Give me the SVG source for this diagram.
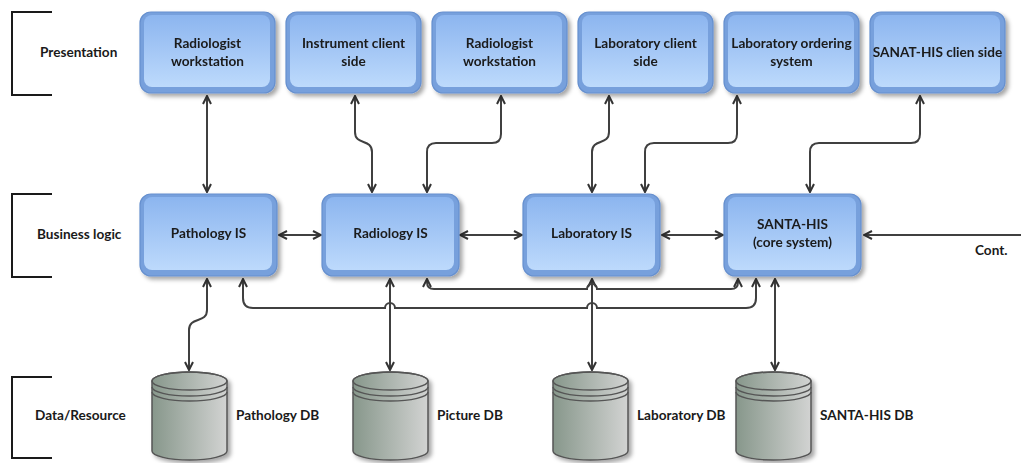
<svg xmlns="http://www.w3.org/2000/svg" width="1021" height="463" viewBox="0 0 1021 463">
<defs>
<linearGradient id="gBox" x1="0" y1="0" x2="0" y2="1">
<stop offset="0" stop-color="#8cb5ef"/>
<stop offset="1" stop-color="#bddafc"/>
</linearGradient>
<linearGradient id="gCyl" x1="0" y1="0" x2="1" y2="0">
<stop offset="0" stop-color="#87978b"/>
<stop offset="1" stop-color="#d2d3d2"/>
</linearGradient>
<filter id="sh" x="-10%" y="-10%" width="125%" height="130%">
<feDropShadow dx="3" dy="3" stdDeviation="2" flood-color="#000" flood-opacity="0.35"/>
</filter>
<marker id="ah" viewBox="0 0 10 10" refX="9" refY="5" markerWidth="10" markerHeight="10" markerUnits="userSpaceOnUse" orient="auto-start-reverse">
<path d="M1,1 L9,5 L1,9" fill="none" stroke="#333" stroke-width="2"/>
</marker>
</defs>
<style>
.outer{fill:#77a0dc;stroke:#6690cf;stroke-width:1.2}
.inner{fill:url(#gBox)}
.t{font-family:Lato,"Open Sans",sans-serif;font-weight:bold;font-size:13.6px;fill:#1a1a1a;text-anchor:middle}
.l{font-family:Lato,"Open Sans",sans-serif;font-weight:bold;font-size:13.6px;fill:#1a1a1a}
.br{fill:none;stroke:#1a1a1a;stroke-width:2}
.c{fill:none;stroke:#404040;stroke-width:2;marker-start:url(#ah);marker-end:url(#ah)}
.c1{fill:none;stroke:#404040;stroke-width:2;marker-end:url(#ah)}
.cyl{fill:url(#gCyl);stroke:#555;stroke-width:1.5}
.ring{fill:none;stroke:#555;stroke-width:1.5}
</style>

<g id="layers">
<path class="br" d="M52,12 H12 V95 H52"/>
<text class="l" x="40" y="57">Presentation</text>
<path class="br" d="M52,194 H12 V277 H52"/>
<text class="l" x="37" y="239">Business logic</text>
<path class="br" d="M52,377 H12 V458 H52"/>
<text class="l" x="35" y="420">Data/Resource</text>
</g>

<g id="connectors">
<path class="c" d="M207,96 L207,192"/>
<path class="c" d="M355,96 L355,132 C355,146 372,138 372,152 L372,192"/>
<path class="c" d="M501,96 L501,134 Q501,143 492,143 L436,143 Q427,143 427,152 L427,192"/>
<path class="c" d="M609,96 L609,132 C609,146 592,138 592,152 L592,192"/>
<path class="c" d="M737,96 L737,134 Q737,143 728,143 L654,143 Q645,143 645,152 L645,192"/>
<path class="c" d="M920,96 L920,134 Q920,143 911,143 L819,143 Q810,143 810,152 L810,192"/>
<path class="c" d="M279,235 L321,235"/>
<path class="c" d="M460,235 L522,235"/>
<path class="c" d="M662,235 L723,235"/>
<path class="c1" d="M1021,235 L864,235"/>
<path class="c" d="M207,279 L207,310 C207,324 189,316 189,330 L189,370"/>
<path class="c" d="M390,279 L390,370"/>
<path class="c" d="M592,279 L592,370"/>
<path class="c" d="M775,279 L775,370"/>
<path class="c" d="M243,279 L243,298 Q243,308 253,308 L385,308 A5,5 0 0 1 395,308 L587,308 A5,5 0 0 1 597,308 L746,308 Q756,308 756,298 L756,279"/>
<path class="c" d="M427,279 L427,282 Q427,289 434,289 L587,289 A5,5 0 0 1 597,289 L731,289 Q738,289 738,282 L738,279"/>
</g>

<g id="n-rw1" filter="url(#sh)">
<rect class="outer" x="140" y="12" width="135" height="81" rx="11"/>
<rect class="inner" x="144" y="15" width="126" height="72" rx="8"/>
<text class="t" x="207.5" y="48">Radiologist</text>
<text class="t" x="207.5" y="66">workstation</text>
</g>
<g id="n-ics" filter="url(#sh)">
<rect class="outer" x="286" y="12" width="135" height="81" rx="11"/>
<rect class="inner" x="290" y="15" width="126" height="72" rx="8"/>
<text class="t" x="353.5" y="48">Instrument client</text>
<text class="t" x="353.5" y="66">side</text>
</g>
<g id="n-rw2" filter="url(#sh)">
<rect class="outer" x="432" y="12" width="135" height="81" rx="11"/>
<rect class="inner" x="436" y="15" width="126" height="72" rx="8"/>
<text class="t" x="499.5" y="48">Radiologist</text>
<text class="t" x="499.5" y="66">workstation</text>
</g>
<g id="n-lcs" filter="url(#sh)">
<rect class="outer" x="578" y="12" width="135" height="81" rx="11"/>
<rect class="inner" x="582" y="15" width="126" height="72" rx="8"/>
<text class="t" x="645.5" y="48">Laboratory client</text>
<text class="t" x="645.5" y="66">side</text>
</g>
<g id="n-los" filter="url(#sh)">
<rect class="outer" x="724" y="12" width="135" height="81" rx="11"/>
<rect class="inner" x="728" y="15" width="126" height="72" rx="8"/>
<text class="t" x="791.5" y="48">Laboratory ordering</text>
<text class="t" x="791.5" y="66">system</text>
</g>
<g id="n-scs" filter="url(#sh)">
<rect class="outer" x="870" y="12" width="135" height="81" rx="11"/>
<rect class="inner" x="874" y="15" width="126" height="72" rx="8"/>
<text class="t" x="937.5" y="57">SANAT-HIS clien side</text>
</g>

<g id="n-pis" filter="url(#sh)">
<rect class="outer" x="140" y="194" width="137" height="82" rx="11"/>
<rect class="inner" x="144" y="197" width="128" height="73" rx="8"/>
<text class="t" x="208.5" y="238">Pathology IS</text>
</g>
<g id="n-ris" filter="url(#sh)">
<rect class="outer" x="322" y="194" width="137" height="82" rx="11"/>
<rect class="inner" x="326" y="197" width="128" height="73" rx="8"/>
<text class="t" x="390.5" y="238">Radiology IS</text>
</g>
<g id="n-lis" filter="url(#sh)">
<rect class="outer" x="523" y="194" width="137" height="82" rx="11"/>
<rect class="inner" x="527" y="197" width="128" height="73" rx="8"/>
<text class="t" x="591.5" y="238">Laboratory IS</text>
</g>
<g id="n-his" filter="url(#sh)">
<rect class="outer" x="724" y="194" width="137" height="82" rx="11"/>
<rect class="inner" x="728" y="197" width="128" height="73" rx="8"/>
<text class="t" x="792.5" y="229">SANTA-HIS</text>
<text class="t" x="792.5" y="247">(core system)</text>
</g>
<text class="l" x="975" y="255">Cont.</text>

<g id="db-path">
<path class="cyl" filter="url(#sh)" d="M152,381 A37.5,9 0 0 1 227,381 L227,451 A37.5,9 0 0 1 152,451 Z"/>
<ellipse class="ring" cx="189.5" cy="381" rx="37.5" ry="9"/>
<path class="ring" d="M152,387 A37.5,9 0 0 0 227,387 M152,392 A37.5,9 0 0 0 227,392"/>
<text class="l" x="236" y="420">Pathology DB</text>
</g>
<g id="db-pic">
<path class="cyl" filter="url(#sh)" d="M353,381 A37.5,9 0 0 1 428,381 L428,451 A37.5,9 0 0 1 353,451 Z"/>
<ellipse class="ring" cx="390.5" cy="381" rx="37.5" ry="9"/>
<path class="ring" d="M353,387 A37.5,9 0 0 0 428,387 M353,392 A37.5,9 0 0 0 428,392"/>
<text class="l" x="437" y="420">Picture DB</text>
</g>
<g id="db-lab">
<path class="cyl" filter="url(#sh)" d="M553,381 A37.5,9 0 0 1 628,381 L628,451 A37.5,9 0 0 1 553,451 Z"/>
<ellipse class="ring" cx="590.5" cy="381" rx="37.5" ry="9"/>
<path class="ring" d="M553,387 A37.5,9 0 0 0 628,387 M553,392 A37.5,9 0 0 0 628,392"/>
<text class="l" x="637" y="420">Laboratory DB</text>
</g>
<g id="db-his">
<path class="cyl" filter="url(#sh)" d="M736,381 A37.5,9 0 0 1 811,381 L811,451 A37.5,9 0 0 1 736,451 Z"/>
<ellipse class="ring" cx="773.5" cy="381" rx="37.5" ry="9"/>
<path class="ring" d="M736,387 A37.5,9 0 0 0 811,387 M736,392 A37.5,9 0 0 0 811,392"/>
<text class="l" x="820" y="420">SANTA-HIS DB</text>
</g>
</svg>
